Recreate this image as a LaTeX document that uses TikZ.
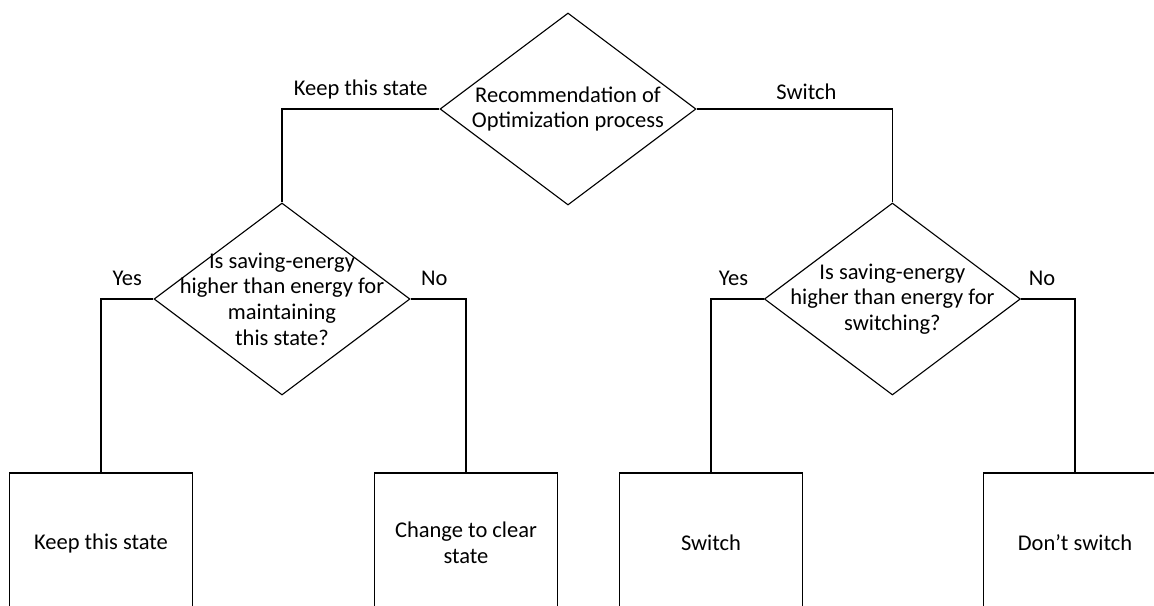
\documentclass[tikz,border=0pt]{standalone}
\usepackage{fontspec}
\setmainfont{Carlito}
\usetikzlibrary{shapes.geometric}

\begin{document}
\begin{tikzpicture}[thick,
	decision/.style={diamond, draw=black, minimum width=6.4cm, minimum height=4.8cm, inner sep=0mm},
	outcome/.style={rectangle, draw=black, minimum width=4.575cm, minimum height=3.5cm, inner sep=0mm},
	txt/.style={align=center, font=\fontsize{16}{18.3}\selectfont}]

	\useasboundingbox (0,0) rectangle (28.85,-15.15);
	\clip (0,0) rectangle (28.85,-15.15);

	% recommendation
	\node[decision] at (14.2,-2.725) (rec) {};
	\node[txt] at (rec) (rect) {Recommendation of\\Optimization process};

	% the two questions
	\node[decision] at (7.05,-7.475) (keepq) {};
	\node[txt] at (keepq) (keepqt) {Is saving-energy\\higher than energy for\\maintaining\\this state?};

	\node[decision] at (22.31,-7.475) (swq) {};
	\node[txt] at (swq) (swqt) {Is saving-energy\\higher than energy for\\switching?};

	% outcomes
	\node[outcome, txt] at (2.525,-13.575) (keep) {Keep this state};
	\node[outcome, txt] at (11.65,-13.575) (clear) {Change to clear\\state};
	\node[outcome, txt] at (17.775,-13.575) (sw) {Switch};
	\node[outcome, txt] at (26.875,-13.575) (dont) {Don't switch};

	\draw (rec.west) -| node[txt, pos=.25, above=3pt] (lkeep) {Keep this state} (keepq.north);
	\draw (rec.east) -| node[txt, pos=.25, above=3pt, xshift=.3cm] (lsw) {Switch} (swq.north);

	\draw (keepq.west) -| node[txt, pos=.25, above=6pt] (lyes1) {Yes} (keep.north);
	\draw (keepq.east) -| node[txt, pos=.25, above=6pt, xshift=-.1cm] (lno1) {No} (clear.north);

	\draw (swq.west) -| node[txt, pos=.25, above=6pt, xshift=-.1cm] (lyes2) {Yes} (sw.north);
	\draw (swq.east) -| node[txt, pos=.25, above=6pt, xshift=-.15cm] (lno2) {No} (dont.north);

\end{tikzpicture}
\end{document}
